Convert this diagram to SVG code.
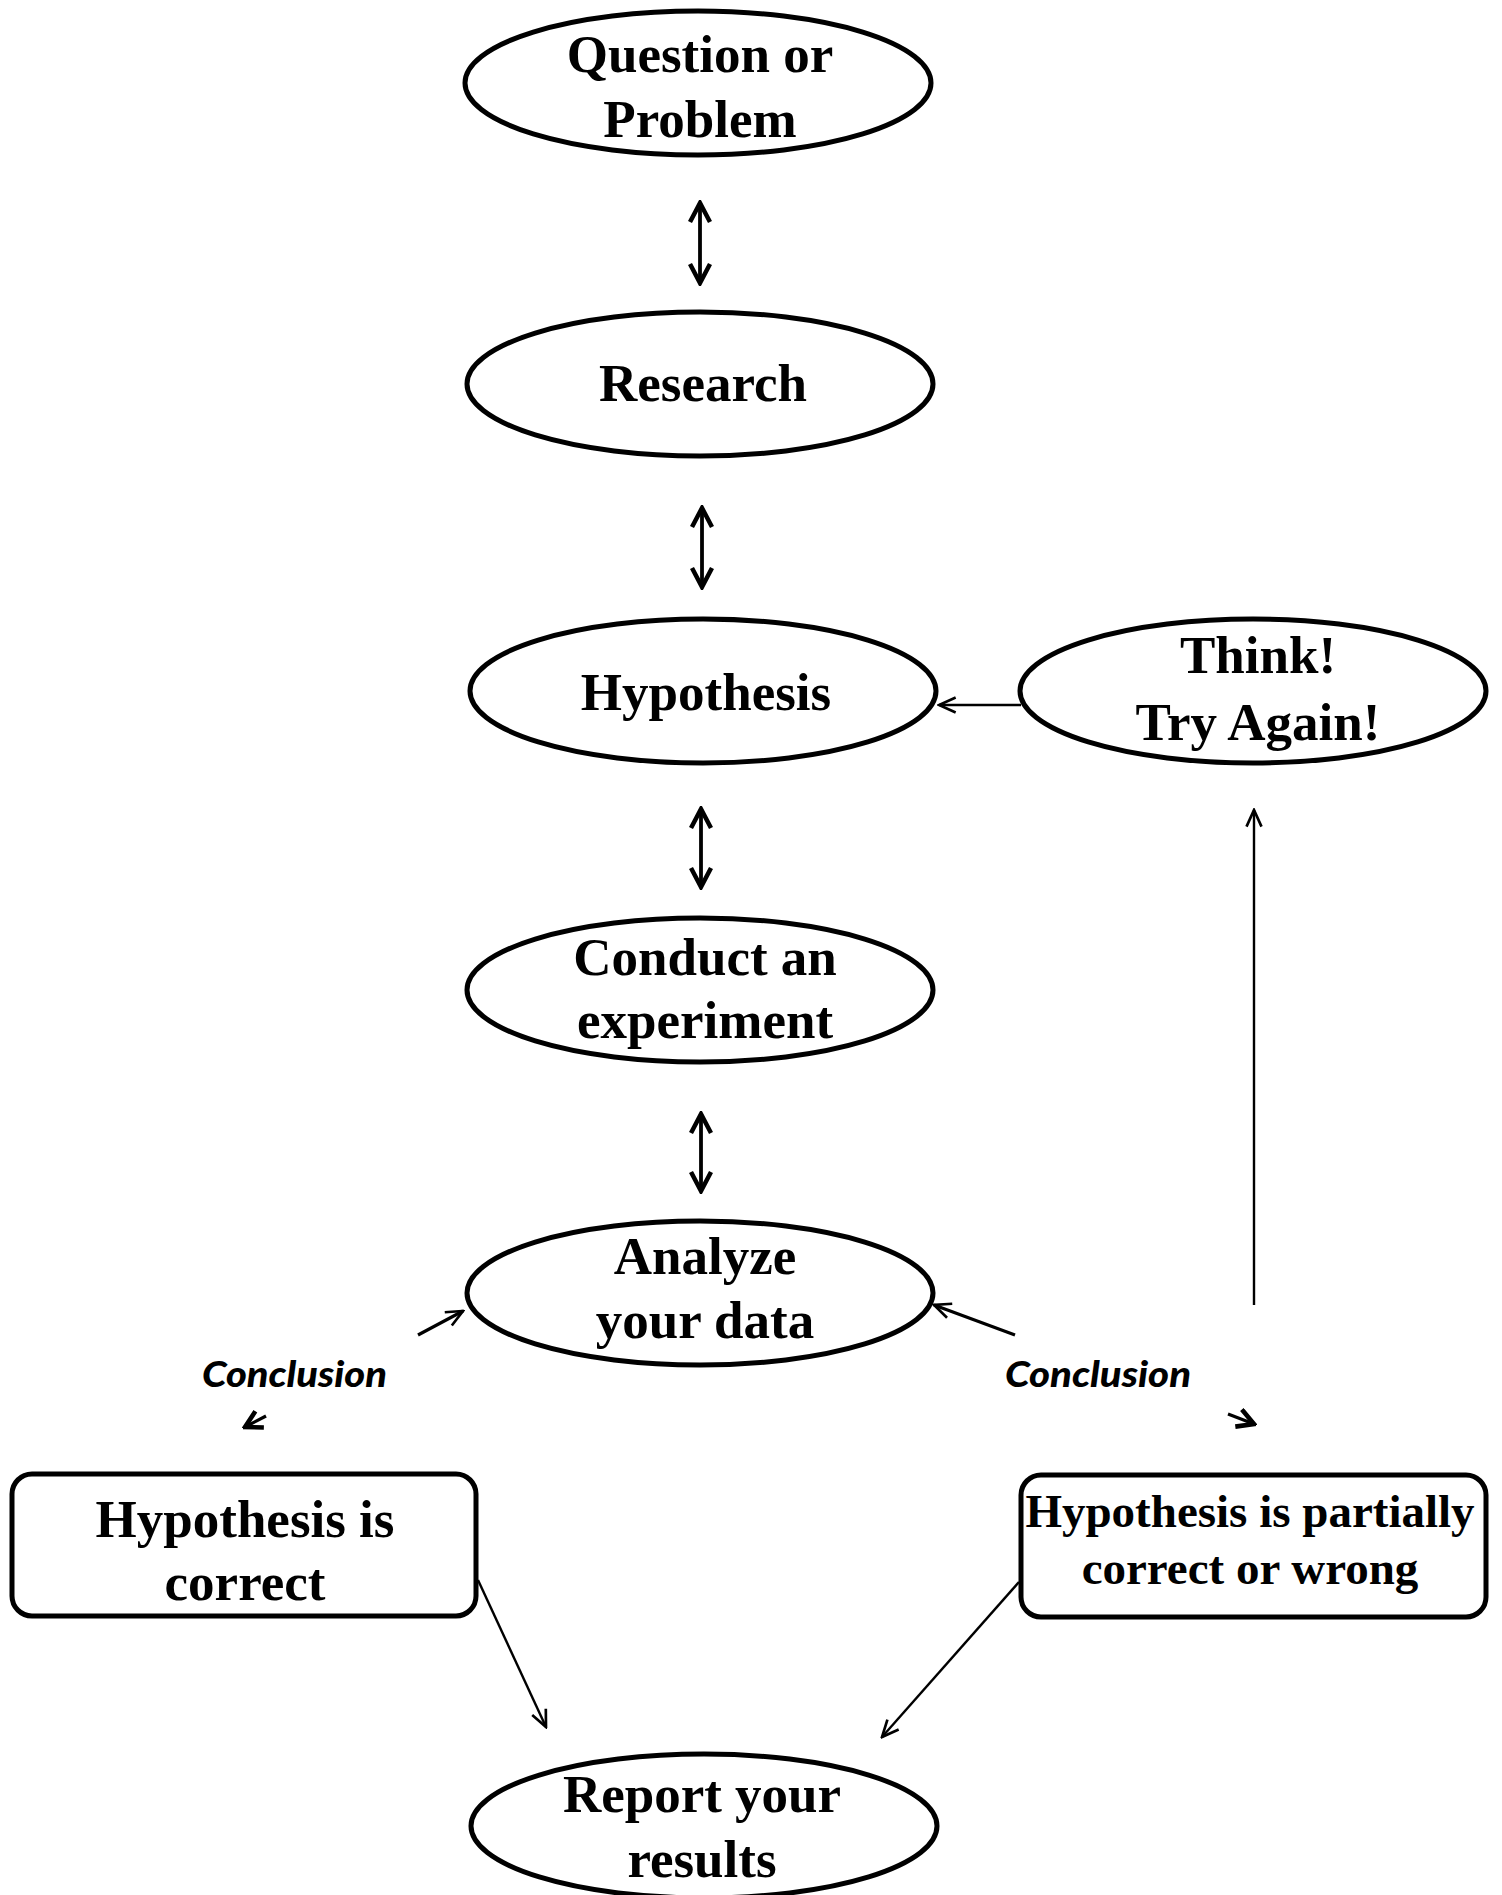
<svg xmlns="http://www.w3.org/2000/svg" width="1502" height="1895" viewBox="0 0 1502 1895">
<style>
.node ellipse, .node rect { fill: #fff; stroke: #000; stroke-width: 5; }
.lbl { font-family: "Liberation Serif", "Times New Roman", serif; font-weight: bold; font-size: 53px; text-anchor: middle; fill: #000; }
.sm { font-size: 47px; }
.concl { font-family: Lato, "Open Sans", sans-serif; font-weight: 900; font-style: italic; font-size: 36px; fill: #000; }
.c { fill: none; stroke: #000; }
.c4 { stroke-width: 3.8; }
.c3 { stroke-width: 3.2; }
.c2 { stroke-width: 2.4; }
</style>
<defs>
<marker id="ahd" viewBox="0 0 24 24" refX="21" refY="12" markerWidth="24" markerHeight="24" markerUnits="userSpaceOnUse" orient="auto-start-reverse">
<path d="M2,2 L21,12 L2,22" fill="none" stroke="#000" stroke-width="4.5"/>
</marker>
<marker id="ahs" viewBox="0 0 24 24" refX="22" refY="12" markerWidth="20" markerHeight="20" markerUnits="userSpaceOnUse" orient="auto-start-reverse">
<path d="M2,3 L22,12 L2,21" fill="none" stroke="#000" stroke-width="3.2"/>
</marker>
<marker id="ahb" viewBox="0 0 24 24" refX="21" refY="12" markerWidth="22" markerHeight="22" markerUnits="userSpaceOnUse" orient="auto">
<path d="M3,2 L21,12 L3,22" fill="none" stroke="#000" stroke-width="5"/>
</marker>
</defs>
<rect x="0" y="0" width="1502" height="1895" fill="#fff"/>

<g id="connectors">
<line class="c c4" x1="700" y1="203" x2="700" y2="283" marker-start="url(#ahd)" marker-end="url(#ahd)"/>
<line class="c c4" x1="702" y1="508" x2="702" y2="587" marker-start="url(#ahd)" marker-end="url(#ahd)"/>
<line class="c c4" x1="701" y1="809" x2="701" y2="887" marker-start="url(#ahd)" marker-end="url(#ahd)"/>
<line class="c c4" x1="701" y1="1114" x2="701" y2="1191" marker-start="url(#ahd)" marker-end="url(#ahd)"/>
<line class="c c2" x1="1021" y1="705" x2="939" y2="705" marker-end="url(#ahs)"/>
<line class="c c2" x1="1254" y1="1305" x2="1254" y2="810" marker-end="url(#ahs)"/>
<line class="c c3" x1="418" y1="1335" x2="463" y2="1311" marker-end="url(#ahs)"/>
<line class="c c3" x1="1015" y1="1335" x2="934" y2="1305" marker-end="url(#ahs)"/>
<line class="c c3" x1="266" y1="1416" x2="245" y2="1427" marker-end="url(#ahb)"/>
<line class="c c3" x1="1228" y1="1414" x2="1254" y2="1424" marker-end="url(#ahb)"/>
<line class="c c2" x1="478" y1="1580" x2="546" y2="1727" marker-end="url(#ahs)"/>
<line class="c c2" x1="1019" y1="1582" x2="882" y2="1737" marker-end="url(#ahs)"/>
</g>

<g id="n-question" class="node">
<ellipse cx="698" cy="83" rx="233" ry="72"/>
<text class="lbl" x="700" y="72">Question or</text>
<text class="lbl" x="700" y="137">Problem</text>
</g>
<g id="n-research" class="node">
<ellipse cx="700" cy="384" rx="233" ry="72"/>
<text class="lbl" x="703" y="401">Research</text>
</g>
<g id="n-hypothesis" class="node">
<ellipse cx="703" cy="691" rx="233" ry="72"/>
<text class="lbl" x="706" y="710">Hypothesis</text>
</g>
<g id="n-think" class="node">
<ellipse cx="1253" cy="691" rx="233" ry="72"/>
<text class="lbl" x="1258" y="673">Think!</text>
<text class="lbl" x="1258" y="740">Try Again!</text>
</g>
<g id="n-conduct" class="node">
<ellipse cx="700" cy="990" rx="233" ry="72"/>
<text class="lbl" x="705" y="975">Conduct an</text>
<text class="lbl" x="705" y="1038">experiment</text>
</g>
<g id="n-analyze" class="node">
<ellipse cx="700" cy="1293" rx="233" ry="72"/>
<text class="lbl" x="705" y="1274">Analyze</text>
<text class="lbl" x="705" y="1338">your data</text>
</g>
<g id="n-correct" class="node">
<rect x="12" y="1474" width="464" height="142" rx="20" ry="20"/>
<text class="lbl" x="245" y="1537">Hypothesis is</text>
<text class="lbl" x="245" y="1600">correct</text>
</g>
<g id="n-wrong" class="node">
<rect x="1021" y="1475" width="465" height="142" rx="20" ry="20"/>
<text class="lbl sm" x="1250" y="1527">Hypothesis is partially</text>
<text class="lbl sm" x="1250" y="1584">correct or wrong</text>
</g>
<g id="n-report" class="node">
<ellipse cx="704" cy="1826" rx="233" ry="72"/>
<text class="lbl" x="702" y="1812">Report your</text>
<text class="lbl" x="702" y="1877">results</text>
</g>

<g id="labels">
<text class="concl" x="202" y="1387" textLength="185" lengthAdjust="spacingAndGlyphs">Conclusion</text>
<text class="concl" x="1005" y="1387" textLength="186" lengthAdjust="spacingAndGlyphs">Conclusion</text>
</g>
</svg>
